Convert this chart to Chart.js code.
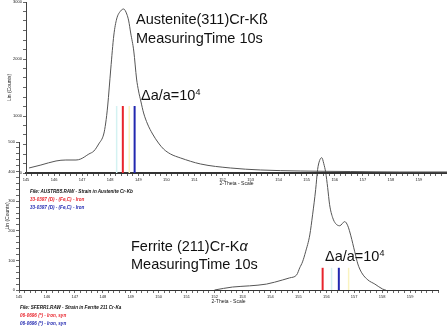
<!DOCTYPE html>
<html>
<head>
<meta charset="utf-8">
<script src="https://cdn.jsdelivr.net/npm/chart.js@4"></script>
<style>
  body { margin: 0; background: #fff; }
  #wrap { position: relative; width: 447px; height: 326px; overflow: hidden; font-family: "Liberation Sans", Arial, sans-serif; }
  canvas { position: absolute; left: 0; top: 0; }
  .big { position: absolute; font-size: 14.5px; line-height: 1; color: #111; white-space: nowrap; }
  .big sup { font-size: 9px; vertical-align: 5px; line-height: 0; }
  .small { position: absolute; font-size: 4.6px; line-height: 1; font-weight: bold; font-style: italic; white-space: nowrap; color: #111; }
</style>
</head>
<body>
<div id="wrap">
  <canvas id="ferrite" width="447" height="326"></canvas>
  <canvas id="austenite" width="447" height="215"></canvas>

  <div class="big" style="left:136px; top:12px;">Austenite(311)Cr-Kß</div>
  <div class="big" style="left:136px; top:31px;">MeasuringTime 10s</div>
  <div class="big" style="left:141px; top:88px;">Δa/a=10<sup>4</sup></div>

  <div class="big" style="left:131px; top:239px;">Ferrite (211)Cr-K<i>α</i></div>
  <div class="big" style="left:131px; top:257px;">MeasuringTime 10s</div>
  <div class="big" style="left:325px; top:249px;">Δa/a=10<sup>4</sup></div>

  <div class="small" style="left:30px; top:190px;">File: AUSTRB5.RAW - Strain in Austenite Cr-Kb</div>
  <div class="small" style="left:30px; top:198px; color:#e8242c;">33-0397 (D) - (Fe,C) - Iron</div>
  <div class="small" style="left:30px; top:206px; color:#2228b0;">33-0397 (D) - (Fe,C) - Iron</div>

  <div class="small" style="left:20px; top:306px;">File: SFERR1.RAW - Strain in Ferrite 211 Cr-Ka</div>
  <div class="small" style="left:20px; top:314px; color:#e8242c;">06-0696 (*) - Iron, syn</div>
  <div class="small" style="left:20px; top:322px; color:#2228b0;">06-0696 (*) - Iron, syn</div>
</div>
<script>
// tick labels
const thetaTicks = [145, 146, 147, 148, 149, 150, 151, 152, 153, 154, 155, 156, 157, 158, 159];
const austeniteCountTicks = [0, 1000, 2000, 3000];
const ferriteCountTicks = [0, 100, 200, 300, 400, 500];

// austenite (311) scan, Cr-Kß
const austeniteTheta = [145.11, 145.53, 146.07, 146.42, 146.78, 146.95, 147.24, 147.42, 147.59, 147.77,
  147.84, 147.91, 148.02, 148.13, 148.23, 148.37, 148.48, 148.59, 148.66, 148.73,
  148.84, 148.94, 149.01, 149.09, 149.19, 149.33, 149.51, 149.72, 149.90, 150.15,
  150.51, 151.22, 152.28, 153.35, 154.77, 156.55, 158.32, 160.0];
const austeniteCounts = [88, 140, 211, 228, 228, 246, 333, 386, 509, 684,
  877, 1175, 1825, 2421, 2702, 2842, 2877, 2789, 2667, 2456,
  2140, 1649, 1439, 1263, 1053, 860, 684, 526, 421, 333,
  263, 158, 88, 53, 35, 26, 18, 18];
// reference lines: faint cyan, faint yellow, red, blue
const austeniteLines = [148.23, 148.68, 148.45, 148.87];
const austeniteLineHeight = 1175;

// ferrite (211) scan, Cr-Ka
const ferriteTheta = [152.00, 152.64, 153.25, 153.86, 154.44, 154.69, 154.94, 155.05, 155.15, 155.26,
  155.41, 155.51, 155.62, 155.69, 155.76, 155.84, 155.91, 155.98, 156.05, 156.12,
  156.23, 156.34, 156.48, 156.66, 156.77, 156.88, 157.02, 157.13, 157.27, 157.49,
  157.74, 158.02, 158.13];
const ferriteCounts = [0, 10, 14, 20, 34, 41, 51, 75, 95, 129,
  186, 254, 339, 407, 437, 447, 427, 397, 346, 288,
  244, 224, 217, 231, 217, 183, 129, 88, 58, 34,
  20, 3, 0];
const ferriteLines = [156.19, 156.80, 155.87, 156.45];
const ferriteLineHeight = 75;

const lineColors = ["#d4f2f2", "#faf3c0", "#e8242c", "#2228b0"];
const fam = "'Liberation Sans', Arial, sans-serif";

function minorTicks(min, max, step) {
  const t = [];
  for (let i = 0; min + i * step <= max + 1e-9; i++) t.push({ value: +(min + i * step).toFixed(4) });
  return t;
}
function tickLabel(v, labels) {
  return labels.some(t => Math.abs(t - v) < 1e-6) ? String(Math.round(v)) : "";
}

function scanChart(id, o) {
  const datasets = o.lines.map((t, i) => ({
    data: [{ x: t, y: 0 }, { x: t, y: o.lineHeight }],
    borderColor: lineColors[i],
    borderWidth: i < 2 ? 1.5 : 2,
    showLine: true, pointRadius: 0
  }));
  datasets.push({
    data: o.theta.map((t, i) => ({ x: t, y: o.counts[i] })),
    borderColor: "#555", borderWidth: 1,
    showLine: true, pointRadius: 0, cubicInterpolationMode: "monotone"
  });

  return new Chart(document.getElementById(id), {
    type: "scatter",
    data: { datasets },
    options: {
      responsive: false, animation: false, devicePixelRatio: 1,
      layout: { padding: o.padding },
      plugins: { legend: { display: false }, tooltip: { enabled: false } },
      scales: {
        x: {
          min: 145, max: 160,
          afterBuildTicks: s => { s.ticks = minorTicks(145, 160, 0.2); },
          afterFit: s => { s.height = o.xHeight; s.paddingLeft = 0; s.paddingRight = 0; },
          ticks: { autoSkip: false, maxRotation: 0, padding: 1, color: "#222",
                   font: { size: 4, family: fam }, callback: v => tickLabel(v, thetaTicks) },
          grid: { drawOnChartArea: false, tickLength: 3, color: "#666" },
          border: { color: "#333", width: o.xBorder },
          title: { display: true, text: "2-Theta - Scale", color: "#222",
                   font: { size: 5, family: fam }, padding: 0 }
        },
        y: {
          min: 0, max: o.yMax,
          afterBuildTicks: s => { s.ticks = minorTicks(0, o.yMax, o.yStep); },
          afterFit: s => { s.width = o.yWidth; s.paddingTop = 0; s.paddingBottom = 0; },
          ticks: { autoSkip: false, padding: 1, color: "#222",
                   font: { size: 4, family: fam }, callback: v => tickLabel(v, o.yLabels) },
          grid: { drawOnChartArea: false, tickLength: 3, color: "#666" },
          border: { color: "#444", width: 1 },
          title: { display: true, text: "Lin (Counts)", color: "#222",
                   font: { size: 5, family: fam }, padding: { top: o.yTitlePad, bottom: 0 } }
        }
      }
    }
  });
}

scanChart("ferrite", {
  theta: ferriteTheta, counts: ferriteCounts,
  lines: ferriteLines, lineHeight: ferriteLineHeight,
  yMax: 500, yStep: 20, yLabels: ferriteCountTicks,
  padding: { left: 0, right: 9, top: 142, bottom: 21 },
  xHeight: 15, yWidth: 19, yTitlePad: 5, xBorder: 1
});

scanChart("austenite", {
  theta: austeniteTheta, counts: austeniteCounts,
  lines: austeniteLines, lineHeight: austeniteLineHeight,
  yMax: 3000, yStep: 1000 / 6, yLabels: austeniteCountTicks,
  padding: { left: 0, right: 0, top: 2, bottom: 28 },
  xHeight: 14, yWidth: 26, yTitlePad: 7, xBorder: 2
});
</script>
</body>
</html>
